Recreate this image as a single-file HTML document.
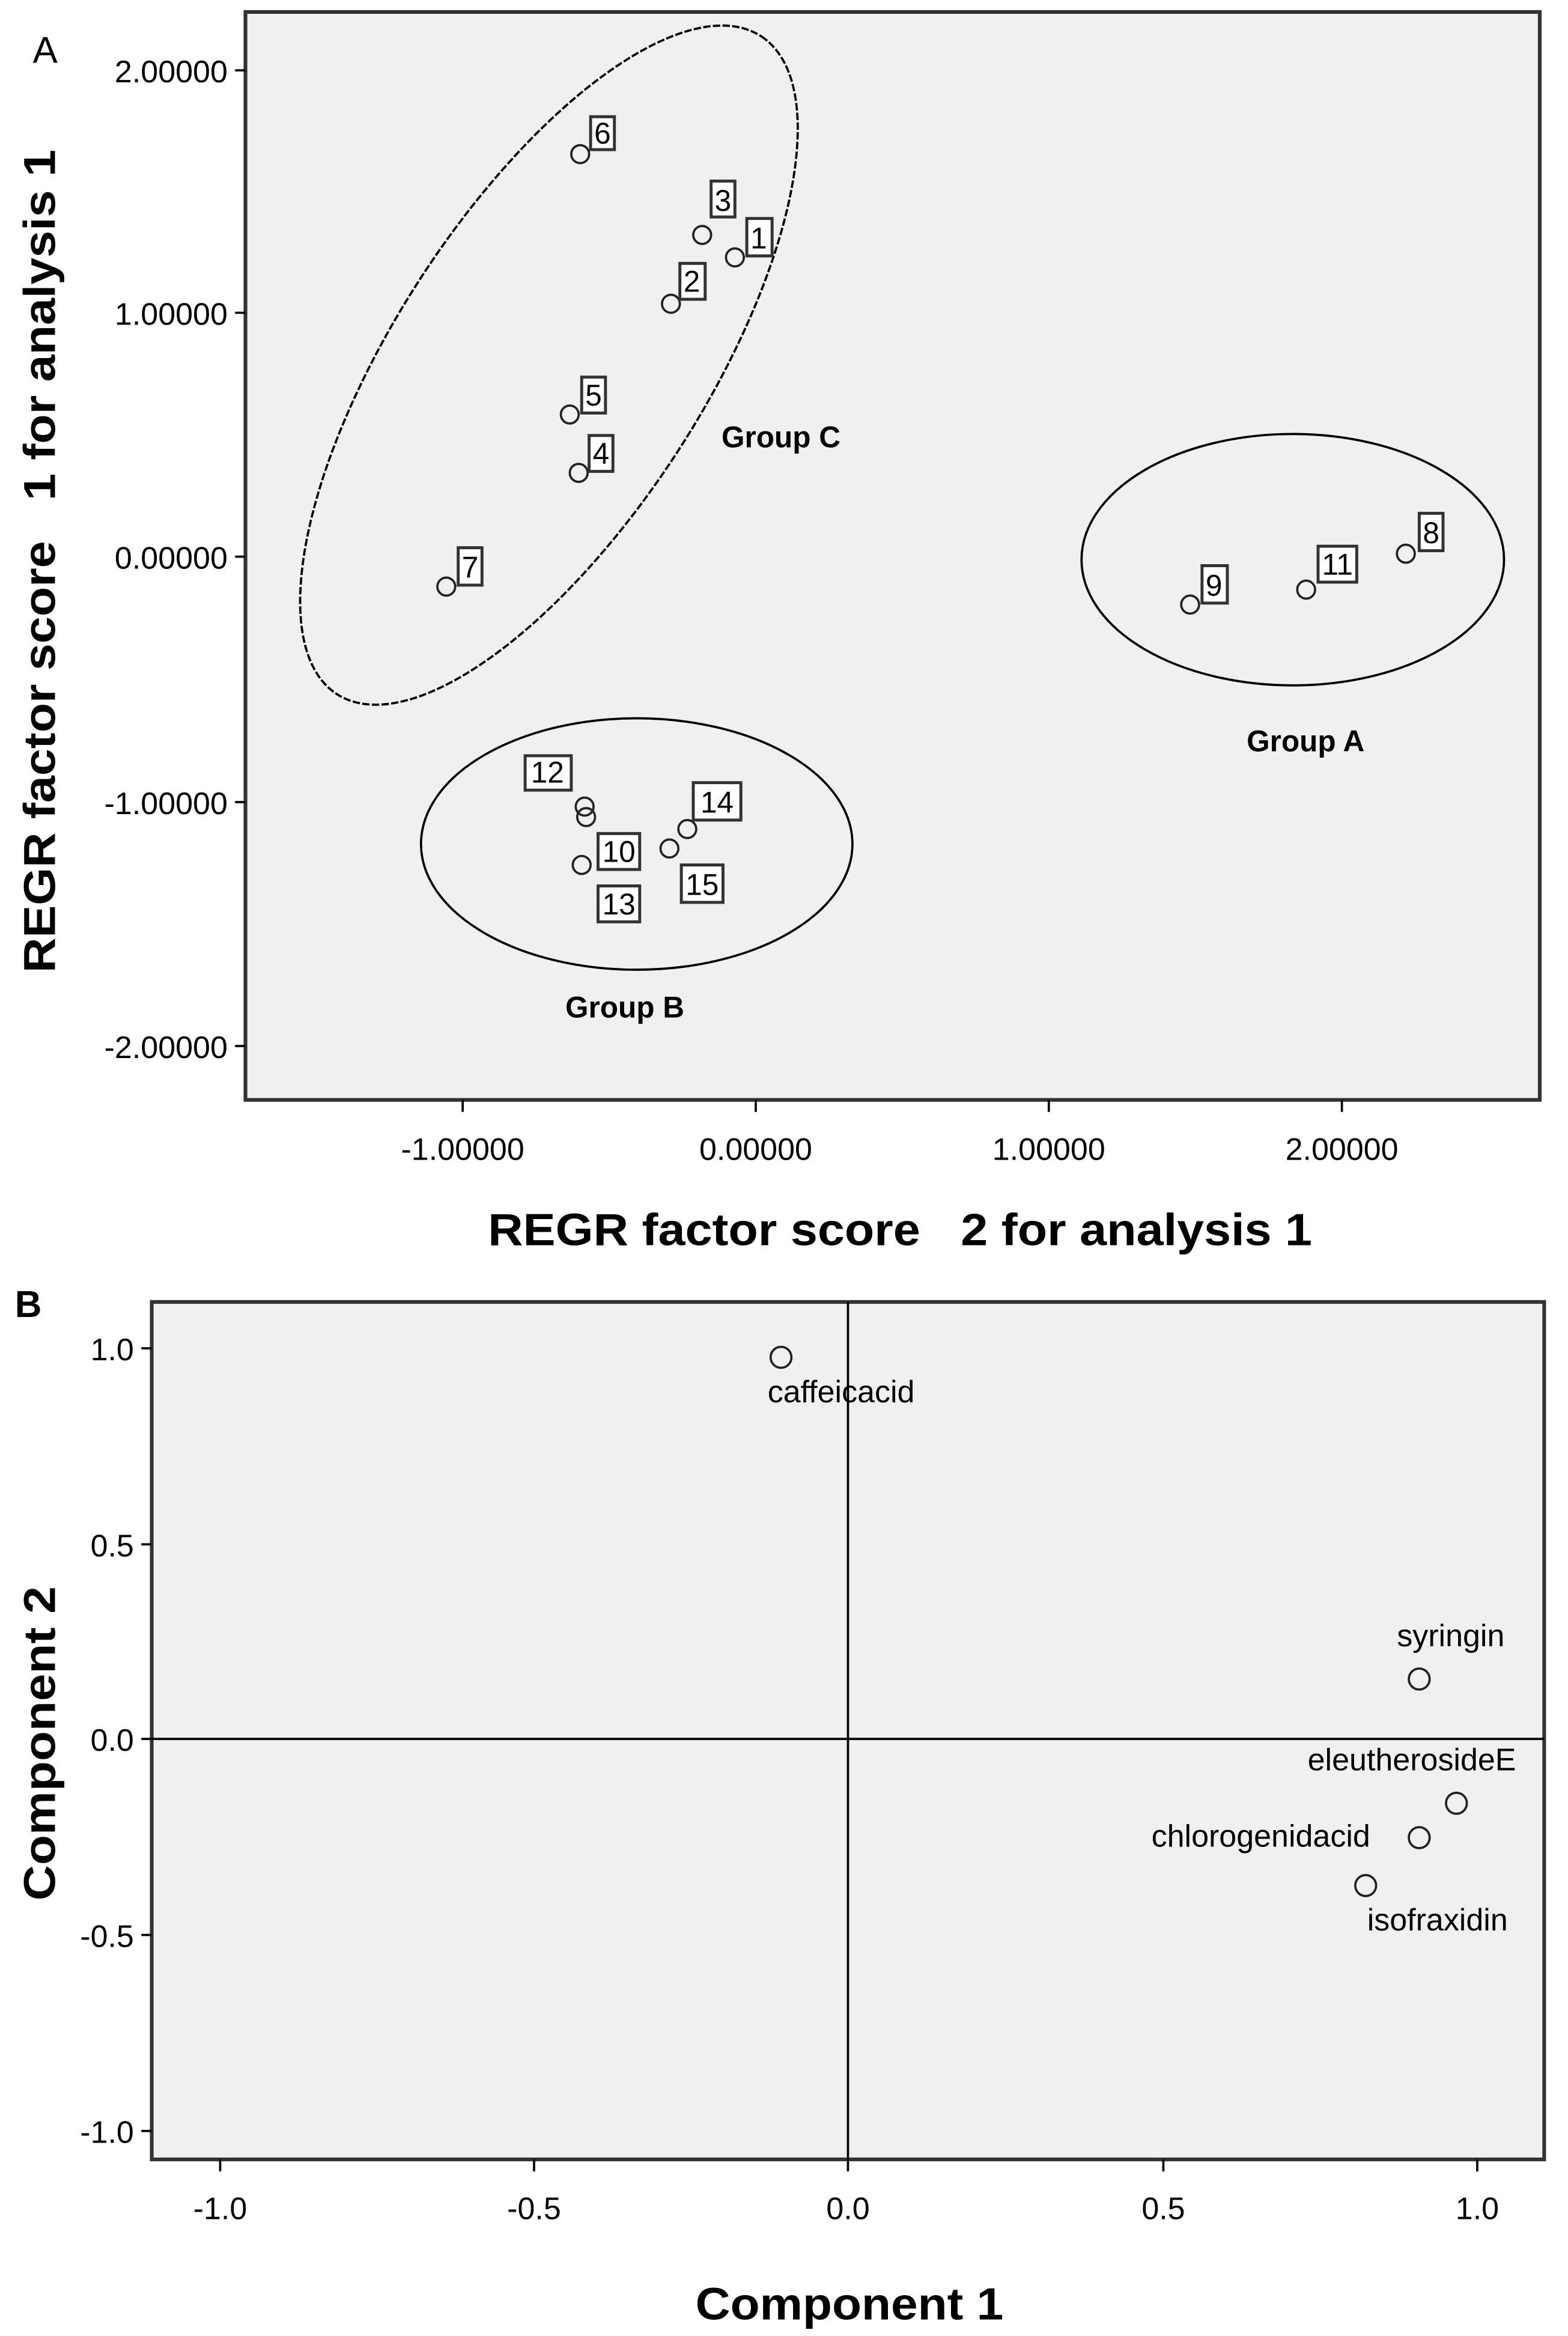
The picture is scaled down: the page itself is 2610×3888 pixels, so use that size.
<!DOCTYPE html>
<html><head><meta charset="utf-8"><style>html,body{margin:0;padding:0;background:#fff}svg{display:block}</style></head>
<body>
<svg xmlns="http://www.w3.org/2000/svg" width="2610" height="3888" viewBox="0 0 1054 1561" preserveAspectRatio="none" font-family="Liberation Sans, Arial, sans-serif">
<rect width="1054" height="1561" fill="#fff"/>
<!-- Panel A -->
<text x="22" y="42" font-size="25" fill="#000">A</text>
<rect x="165" y="8" width="870" height="727" fill="#f0f0f0" stroke="#333" stroke-width="2.5"/>
<g stroke="#000" stroke-width="1.5">
<line x1="158" y1="47" x2="165" y2="47"/><line x1="158" y1="209" x2="165" y2="209"/><line x1="158" y1="372" x2="165" y2="372"/><line x1="158" y1="536" x2="165" y2="536"/><line x1="158" y1="699" x2="165" y2="699"/>
<line x1="311" y1="735" x2="311" y2="743"/><line x1="508" y1="735" x2="508" y2="743"/><line x1="705" y1="735" x2="705" y2="743"/><line x1="902" y1="735" x2="902" y2="743"/>
</g>
<g font-size="21" fill="#000" text-anchor="end">
<text x="153" y="55">2.00000</text><text x="153" y="217">1.00000</text><text x="153" y="380">0.00000</text><text x="153" y="544">-1.00000</text><text x="153" y="707">-2.00000</text>
</g>
<g font-size="21" fill="#000" text-anchor="middle">
<text x="311" y="775">-1.00000</text><text x="508" y="775">0.00000</text><text x="705" y="775">1.00000</text><text x="902" y="775">2.00000</text>
</g>
<text transform="translate(37,375) rotate(-90)" font-size="30" font-weight="bold" text-anchor="middle" fill="#000" xml:space="preserve" textLength="550" lengthAdjust="spacingAndGlyphs">REGR factor score   1 for analysis 1</text>
<text x="605" y="832" font-size="30" font-weight="bold" text-anchor="middle" fill="#000" xml:space="preserve" textLength="554" lengthAdjust="spacingAndGlyphs">REGR factor score   2 for analysis 1</text>
<g fill="none" stroke="#000" stroke-width="1.5">
<ellipse cx="369" cy="244" rx="262" ry="104" transform="rotate(-57 369 244)" stroke-dasharray="5 1.5"/>
<ellipse cx="869" cy="374" rx="142" ry="84"/>
<ellipse cx="428" cy="564" rx="145" ry="84"/>
</g>
<g font-size="20" font-weight="bold" fill="#000">
<text x="485" y="299">Group C</text><text x="838" y="502">Group A</text><text x="380" y="680">Group B</text>
</g>
<g fill="none" stroke="#222" stroke-width="1.5">
<circle cx="390" cy="103" r="6"/><circle cx="472" cy="157" r="6"/><circle cx="494" cy="172" r="6"/><circle cx="451" cy="203" r="6"/><circle cx="383" cy="277" r="6"/><circle cx="389" cy="316" r="6"/><circle cx="300" cy="392" r="6"/>
<circle cx="800" cy="404" r="6"/><circle cx="878" cy="394" r="6"/><circle cx="945" cy="370" r="6"/>
<circle cx="393" cy="539" r="6"/><circle cx="394" cy="546" r="6"/><circle cx="391" cy="578" r="6"/><circle cx="462" cy="554" r="6"/><circle cx="450" cy="567" r="6"/>
</g>
<g fill="#fff" stroke="#333" stroke-width="2">
<rect x="397" y="78" width="16" height="22"/><rect x="478" y="121" width="16" height="24"/><rect x="502" y="146" width="17" height="25"/><rect x="457" y="176" width="17" height="24"/><rect x="391" y="252" width="16" height="24"/><rect x="396" y="291" width="16" height="24"/><rect x="308" y="366" width="16" height="25"/>
<rect x="808" y="378" width="17" height="25"/><rect x="886" y="365" width="26" height="24"/><rect x="954" y="343" width="16" height="25"/>
<rect x="353" y="505" width="31" height="23"/><rect x="402" y="557" width="28" height="24"/><rect x="402" y="592" width="28" height="24"/><rect x="466" y="523" width="32" height="25"/><rect x="458" y="578" width="28" height="25"/>
</g>
<g font-size="20" fill="#000" text-anchor="middle">
<text x="405" y="96">6</text><text x="486" y="141">3</text><text x="510" y="166">1</text><text x="465" y="195">2</text><text x="399" y="271">5</text><text x="404" y="310">4</text><text x="316" y="386">7</text>
<text x="816" y="398">9</text><text x="899" y="384">11</text><text x="962" y="363">8</text>
<text x="368" y="523">12</text><text x="416" y="576">10</text><text x="416" y="611">13</text><text x="482" y="543">14</text><text x="472" y="598">15</text>
</g>
<!-- Panel B -->
<text x="10" y="880" font-size="25" font-weight="bold" fill="#000">B</text>
<rect x="102" y="870" width="936" height="573" fill="#f0f0f0" stroke="#333" stroke-width="2.5"/>
<g stroke="#000" stroke-width="1.5">
<line x1="95" y1="901" x2="102" y2="901"/><line x1="95" y1="1032" x2="102" y2="1032"/><line x1="95" y1="1162" x2="102" y2="1162"/><line x1="95" y1="1293" x2="102" y2="1293"/><line x1="95" y1="1424" x2="102" y2="1424"/>
<line x1="148" y1="1443" x2="148" y2="1451"/><line x1="359" y1="1443" x2="359" y2="1451"/><line x1="570" y1="1443" x2="570" y2="1451"/><line x1="782" y1="1443" x2="782" y2="1451"/><line x1="993" y1="1443" x2="993" y2="1451"/>
<line x1="570" y1="870" x2="570" y2="1443"/><line x1="102" y1="1162" x2="1038" y2="1162"/>
</g>
<g font-size="21" fill="#000" text-anchor="end">
<text x="90" y="909">1.0</text><text x="90" y="1040">0.5</text><text x="90" y="1170">0.0</text><text x="90" y="1301">-0.5</text><text x="90" y="1432">-1.0</text>
</g>
<g font-size="21" fill="#000" text-anchor="middle">
<text x="148" y="1483">-1.0</text><text x="359" y="1483">-0.5</text><text x="570" y="1483">0.0</text><text x="782" y="1483">0.5</text><text x="993" y="1483">1.0</text>
</g>
<text transform="translate(37,1165) rotate(-90)" font-size="30" font-weight="bold" text-anchor="middle" fill="#000" textLength="210" lengthAdjust="spacingAndGlyphs">Component 2</text>
<text x="571" y="1550" font-size="30" font-weight="bold" text-anchor="middle" fill="#000" textLength="207" lengthAdjust="spacingAndGlyphs">Component 1</text>
<g fill="none" stroke="#222" stroke-width="1.5">
<circle cx="525" cy="907" r="7"/><circle cx="954" cy="1122" r="7"/><circle cx="979" cy="1205" r="7"/><circle cx="954" cy="1228" r="7"/><circle cx="918" cy="1260" r="7"/>
</g>
<g font-size="21" fill="#000">
<text x="516" y="937">caffeicacid</text>
<text x="939" y="1100">syringin</text>
<text x="879" y="1183">eleutherosideE</text>
<text x="774" y="1234">chlorogenidacid</text>
<text x="919" y="1290">isofraxidin</text>
</g>
</svg>
</body></html>
